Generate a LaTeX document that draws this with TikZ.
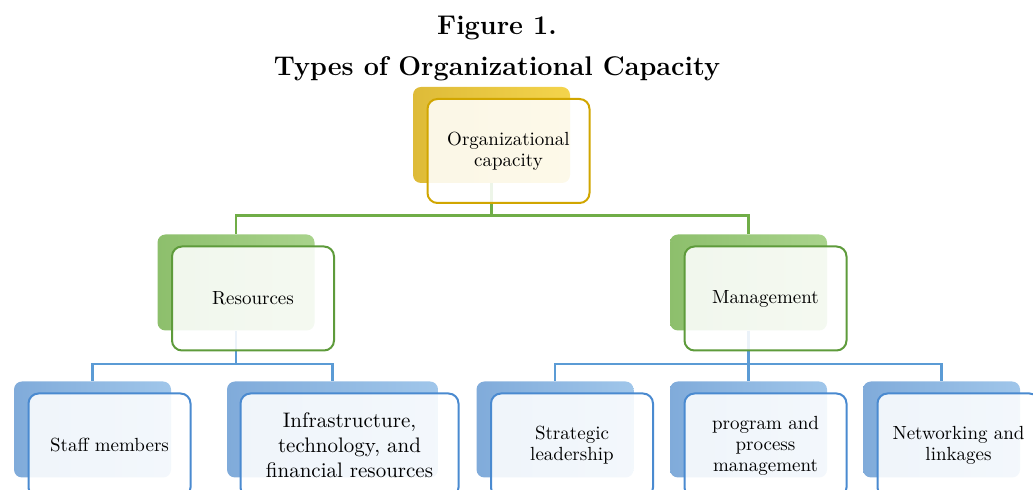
\documentclass[tikz,border=0pt]{standalone}
\definecolor{cY}{HTML}{F4D44C}
\definecolor{cYd}{HTML}{DEBB38}
\definecolor{cYe}{HTML}{D1A600}
\definecolor{cG}{HTML}{A9D38C}
\definecolor{cGd}{HTML}{8DBF6C}
\definecolor{cGe}{HTML}{5E9B3B}
\definecolor{cB}{HTML}{A0C6EA}
\definecolor{cBd}{HTML}{80ABDA}
\definecolor{cBe}{HTML}{4A8AD0}
\definecolor{lnG}{HTML}{70AD47}
\definecolor{lnB}{HTML}{5B9BD5}
\tikzset{
  title/.style={font=\bfseries\fontsize{13.5}{16}\selectfont,inner sep=0pt},
  plate/.style={rounded corners=4pt,minimum width=78.5pt,minimum height=48pt,
              inner sep=0pt},
  yplate/.style={plate,left color=cYd,right color=cY},
  gplate/.style={plate,left color=cGd,right color=cG},
  bplate/.style={plate,left color=cBd,right color=cB},
  card/.style={rounded corners=5pt,line width=1pt,fill=white,fill opacity=.88,
              text opacity=1,minimum width=81pt,minimum height=52pt,
              inner sep=2pt,align=center,font=\fontsize{9.5}{10.5}\selectfont,
              xshift=8.5pt,yshift=-8pt},
  gline/.style={line width=1.2pt,lnG},
  bline/.style={line width=1.2pt,lnB},
}
\begin{document}
\begin{tikzpicture}[x=0.5pt,y=-0.5pt]
  \useasboundingbox (0,0) rectangle (1033,490);
  \node[title] (fig) at (497,28) {Figure 1.};
  \node[title] (ttl) at (497,69) {Types of Organizational Capacity};

  % back plates
  \node[yplate] (orgb) at (491.5,135) {};
  \node[gplate] (resb) at (236,282.5) {};
  \node[gplate] (manb) at (748.5,282.5) {};
  \node[bplate] (stfb) at (92.5,429.5) {};
  \node[bplate,minimum width=105.5pt] (infb) at (332.5,429.5) {};
  \node[bplate] (strb) at (555,429.5) {};
  \node[bplate] (prgb) at (748.5,429.5) {};
  \node[bplate] (netb) at (941.5,429.5) {};

  % connectors
  \draw[gline] (orgb.south) -- ++(0,32) -| (resb.north);
  \draw[gline] (orgb.south) -- ++(0,32) -| (manb.north);
  \draw[bline] (resb.south) -- ++(0,33) -| (stfb.north);
  \draw[bline] (resb.south) -- ++(0,33) -| (infb.north);
  \draw[bline] (manb.south) -- ++(0,33) -| (strb.north);
  \draw[bline] (manb.south) -- ++(0,33) -| (prgb.north);
  \draw[bline] (manb.south) -- ++(0,33) -| (netb.north);

  % front cards
  \node[card,draw=cYe] (org) at (orgb) {Organizational\\capacity};
  \node[card,draw=cGe] (res) at (resb) {Resources};
  \node[card,draw=cGe] (man) at (manb) {Management};
  \node[card,draw=cBe] (stf) at (stfb) {Staff members};
  \node[card,draw=cBe,minimum width=109pt,
        font=\fontsize{10.5}{12.5}\selectfont] (inf) at (infb)
        {Infrastructure,\\technology, and\\financial resources};
  \node[card,draw=cBe] (str) at (strb) {Strategic\\leadership};
  \node[card,draw=cBe] (prg) at (prgb) {program and\\process\\management};
  \node[card,draw=cBe] (net) at (netb) {Networking and\\linkages};
\end{tikzpicture}
\end{document}
